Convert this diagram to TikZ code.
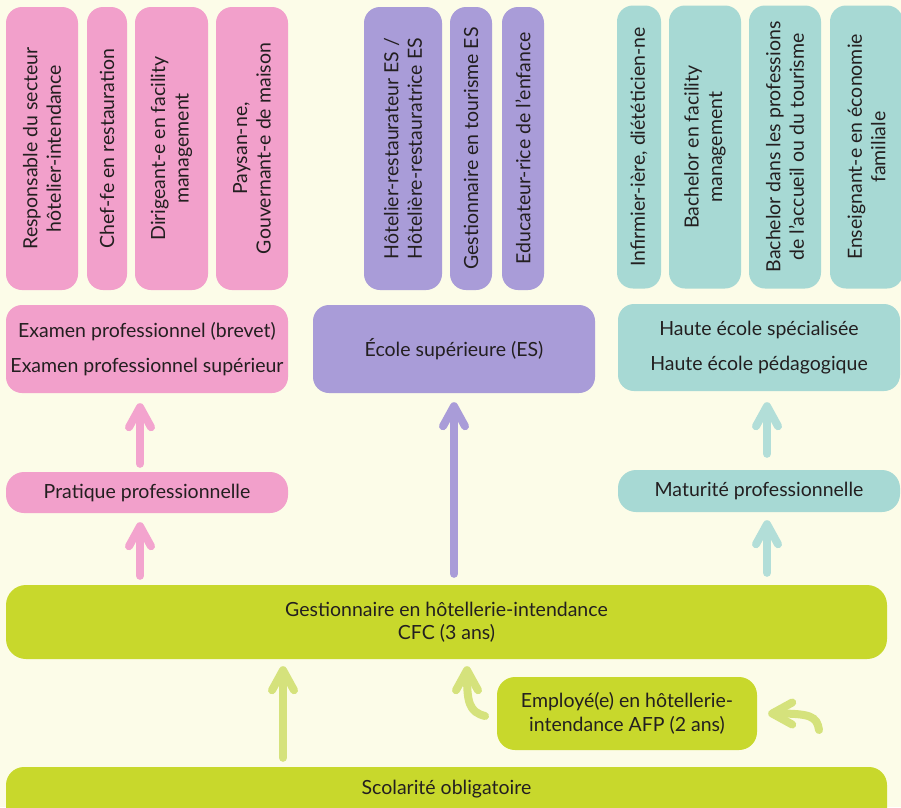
\documentclass[tikz,border=0pt]{standalone}
\usepackage{fontspec}
\setmainfont{Lato}
\usetikzlibrary{arrows.meta,calc}
\definecolor{bgc}{HTML}{FCFCE8}
\definecolor{pinkc}{HTML}{F2A0CB}
\definecolor{purplec}{HTML}{A99CD8}
\definecolor{tealc}{HTML}{A7D9D4}
\definecolor{limec}{HTML}{C8D82C}
\definecolor{pinkarr}{HTML}{F3A4CE}
\definecolor{tealarr}{HTML}{B2DED8}
\definecolor{limearr}{HTML}{D5E27C}
\definecolor{txt}{HTML}{231F20}
\begin{document}
\begin{tikzpicture}[x=1pt,y=-1pt,
  box/.style={inner sep=0pt, rounded corners=16pt, text=txt, align=center,
    font=\fontsize{19.5}{23.5}\selectfont},
  vtop/.style={box, rotate=90, minimum width=283pt, minimum height=#1},
  wide/.style={box, minimum width=282pt, minimum height=#1},
  pbox/.style={fill=pinkc},
  ubox/.style={fill=purplec},
  tbox/.style={fill=tealc},
  gbox/.style={fill=limec},
  arr/.style={line width=8pt, line cap=round,
    -{Straight Barb[length=20pt, width=22pt, round]}},
  pinkarrow/.style={arr, draw=pinkarr},
  purplearrow/.style={arr, draw=purplec},
  tealarrow/.style={arr, draw=tealarr},
  limearrow/.style={arr, draw=limearr}]
\fill[bgc] (0,0) rectangle (901,807);
\useasboundingbox (0,0) rectangle (901,807);
\clip (0,0) rectangle (901,807);

% top pink
\node[vtop=72pt, pbox] (p1) at (42,148.5) {Responsable du secteur\\hôtelier-intendance};
\node[vtop=40pt, pbox] (p2) at (107,148.5) {Chef-fe en restauration};
\node[vtop=73pt, pbox] (p3) at (171.5,148.5) {Dirigeant-e en facility\\management};
\node[vtop=72pt, pbox] (p4) at (252,148.5) {Paysan-ne,\\Gouvernant-e de maison};
% top purple
\node[vtop=78pt, ubox] (u1) at (403,148.5) {Hôtelier-restaurateur ES /\\Hôtelière-restauratrice ES};
\node[vtop=42pt, ubox] (u2) at (471,148.5) {Gestionnaire en tourisme ES};
\node[vtop=42pt, ubox] (u3) at (523,148.5) {Educateur-rice de l’enfance};
% top teal
\node[vtop=44pt, tbox] (t1) at (639,147) {Infirmier-ière, diététicien-ne};
\node[vtop=72pt, tbox] (t2) at (705,147) {Bachelor en facility\\management};
\node[vtop=72pt, tbox] (t3) at (785,147) {Bachelor dans les professions\\de l’accueil ou du tourisme};
\node[vtop=73pt, tbox] (t4) at (866.5,147) {Enseignant-e en économie\\familiale};

% middle row
\node[wide=88pt, pbox] (exam) at (147,349) {Examen professionnel (brevet)\\[12pt]Examen professionnel supérieur};
\node[wide=88pt, ubox] (es) at (454,349) {École supérieure (ES)};
\node[wide=87pt, tbox] (hes) at (759,347.5) {Haute école spécialisée\\[11pt]Haute école pédagogique};
\node[wide=41pt, pbox, rounded corners=18pt] (prat) at (147,492.5) {Pratique professionnelle};
\node[wide=42pt, tbox, rounded corners=18pt] (mat) at (759,491) {Maturité professionnelle};

% bottom
\node[box, gbox, minimum width=881pt, minimum height=74pt, rounded corners=20pt] (cfc) at (446.5,622)
  {Gestionnaire en hôtellerie-intendance\\CFC (3 ans)};
\node[box, gbox, minimum width=260pt, minimum height=73pt, rounded corners=18pt] (afp) at (627,713.5)
  {Employé(e) en hôtellerie-\\intendance AFP (2 ans)};
\node[box, gbox, minimum width=881pt, minimum height=62pt, rounded corners=18pt] (scol) at (446.5,798)
  {\raisebox{22pt}{Scolarité obligatoire}};

% arrow columns
\coordinate (xp) at (140,0);
\coordinate (xt) at (767,0);
\coordinate (xg) at (283,0);

% straight arrows
\draw[pinkarrow, shorten <=8pt, shorten >=10pt] (prat.north -| xp) -- (exam.south -| xp);
\draw[pinkarrow, shorten <=9pt, shorten >=9pt] (cfc.north -| xp) -- (prat.south -| xp);
\draw[purplearrow, shorten <=11pt, shorten >=9pt] (cfc.north -| es.south) -- (es.south);
\draw[tealarrow, shorten <=16pt, shorten >=11pt] (mat.north -| xt) -- (hes.south -| xt);
\draw[tealarrow, shorten <=12pt, shorten >=8pt] (cfc.north -| xt) -- (mat.south -| xt);
\draw[limearrow, shorten <=9pt, shorten >=7pt] (scol.north -| xg) -- (cfc.south -| xg);

% curved arrows
\coordinate (c1) at (485,716);
\draw[limearrow] (c1) .. controls (469,712) and (467,702) .. ([xshift=20.5pt,yshift=-7pt]cfc.south);
\coordinate (c2) at (819,730);
\draw[limearrow] (c2) .. controls (817,716) and (810,713.5) .. ([xshift=11pt]afp.east);
\end{tikzpicture}
\end{document}
